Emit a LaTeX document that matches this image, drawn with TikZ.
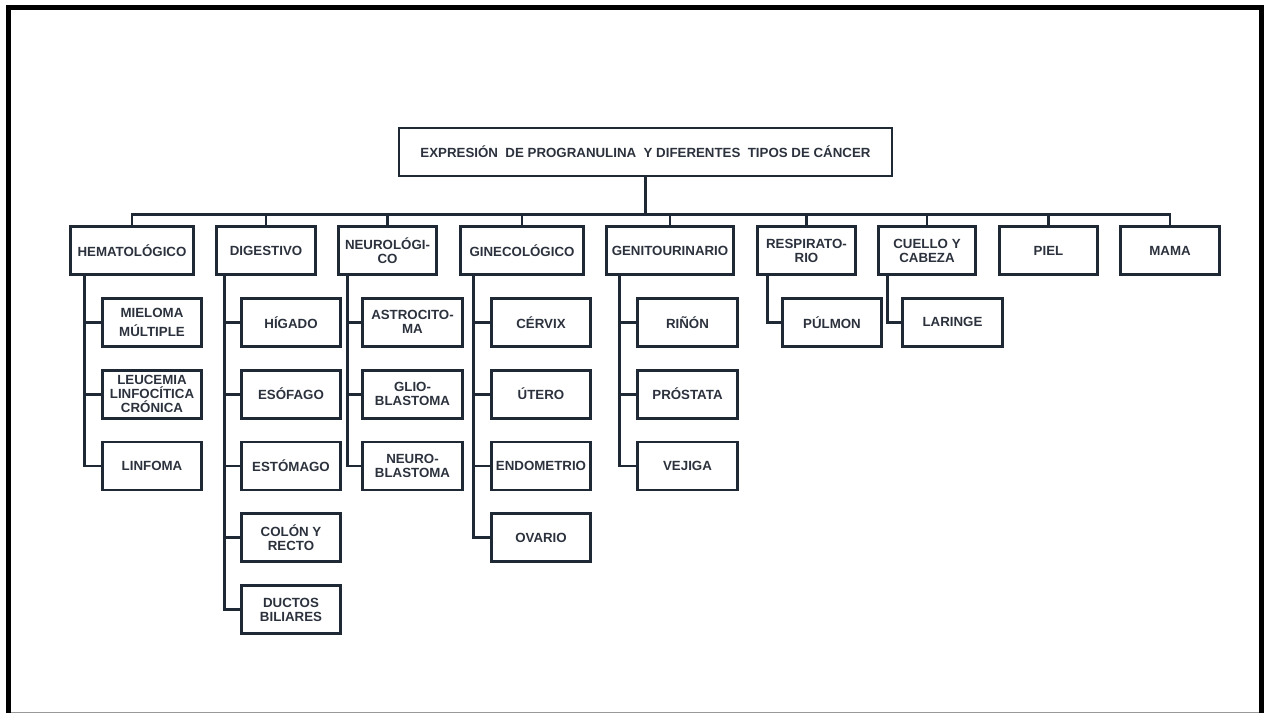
\documentclass[tikz,border=0pt]{standalone}
\usepackage{fontspec}
\setmainfont{Liberation Sans}
\usepackage{tikz}
\usetikzlibrary{positioning}
\definecolor{linec}{RGB}{31,40,53}
\definecolor{textc}{RGB}{44,50,61}

\begin{document}
\begin{tikzpicture}[
  x=1pt,y=-1pt,
  node distance=21pt,
  box/.style={draw=linec,line width=2.8pt,align=center,minimum height=48pt,
              inner sep=2pt,text=textc,font=\bfseries\fontsize{13.3}{14}\selectfont},
  cat/.style={box,minimum width=#1},
  leaf/.style={box,minimum width=99.5pt},
  link/.style={draw=linec,line width=2.8pt}
]
\useasboundingbox (0,0) rectangle (1264,713);
% frame
\draw[line width=5pt] (8.5,713) -- (8.5,7.5) -- (1261.5,7.5) -- (1261.5,713);
\draw[gray!80,line width=1pt] (11,712) -- (1259,712);

\node[box,minimum width=493pt] (title) at (645.5,152)
  {EXPRESIÓN\ \ DE PROGRANULINA\ \ Y DIFERENTES\ \ TIPOS DE CÁNCER};

% categories
\node[cat=123pt] (hemato) at (132,250.5) {HEMATOLÓGICO};
\node[cat=99pt]  (digest) at (266,250.5) {DIGESTIVO};
\node[cat=98pt]  (neuro)  at (387.5,250.5) {NEUROLÓGI-\\CO};
\node[cat=123pt] (gineco) at (522,250.5) {GINECOLÓGICO};
\node[cat=127pt] (genito) at (670,250.5) {GENITOURINARIO};
\node[cat=98pt]  (resp)   at (806.5,250.5) {RESPIRATO-\\RIO};
\node[cat=97pt]  (cuello) at (927,250.5) {CUELLO Y\\CABEZA};
\node[cat=98pt]  (piel)   at (1048.5,250.5) {PIEL};
\node[cat=99pt]  (mama)   at (1170,250.5) {MAMA};

% hematologico
\node[leaf,below=of hemato,xshift=20pt] (mieloma) {MIELOMA\\[5pt]MÚLTIPLE};
\node[leaf,below=of mieloma] (leucemia) {LEUCEMIA\\LINFOCÍTICA\\CRÓNICA};
\node[leaf,below=of leucemia] (linfoma) {LINFOMA};
% digestivo
\node[leaf,below=of digest,xshift=25pt] (higado) {HÍGADO};
\node[leaf,below=of higado] (esofago) {ESÓFAGO};
\node[leaf,below=of esofago] (estomago) {ESTÓMAGO};
\node[leaf,below=of estomago] (colon) {COLÓN Y\\RECTO};
\node[leaf,below=of colon] (ductos) {DUCTOS\\BILIARES};
% neurologico
\node[leaf,below=of neuro,xshift=25pt] (astro) {ASTROCITO-\\MA};
\node[leaf,below=of astro] (glio) {GLIO-\\BLASTOMA};
\node[leaf,below=of glio] (neuroblast) {NEURO-\\BLASTOMA};
% ginecologico
\node[leaf,below=of gineco,xshift=19pt] (cervix) {CÉRVIX};
\node[leaf,below=of cervix] (utero) {ÚTERO};
\node[leaf,below=of utero] (endometrio) {ENDOMETRIO};
\node[leaf,below=of endometrio] (ovario) {OVARIO};
% genitourinario
\node[leaf,below=of genito,xshift=17.5pt] (rinon) {RIÑÓN};
\node[leaf,below=of rinon] (prostata) {PRÓSTATA};
\node[leaf,below=of prostata] (vejiga) {VEJIGA};
% respiratorio, cuello y cabeza
\node[leaf,below=of resp,xshift=25.5pt] (pulmon) {PÚLMON};
\node[leaf,below=of cuello,xshift=25.5pt] (laringe) {LARINGE};

% bus from title
\foreach \n in {hemato,digest,neuro,gineco,genito,resp,cuello,piel,mama}
  \draw[link] (title.south) -- ++(0,37) -| (\n.north);

% branches
\foreach \p/\o/\c in {hemato/15/mieloma,hemato/15/leucemia,hemato/15/linfoma,
    digest/9/higado,digest/9/esofago,digest/9/estomago,digest/9/colon,digest/9/ductos,
    neuro/10/astro,neuro/10/glio,neuro/10/neuroblast,
    gineco/14/cervix,gineco/14/utero,gineco/14/endometrio,gineco/14/ovario,
    genito/14/rinon,genito/14/prostata,genito/14/vejiga,
    resp/11/pulmon,cuello/10/laringe}
  \draw[link] ([xshift=\o pt]\p.south west) |- (\c.west);
\end{tikzpicture}
\end{document}
